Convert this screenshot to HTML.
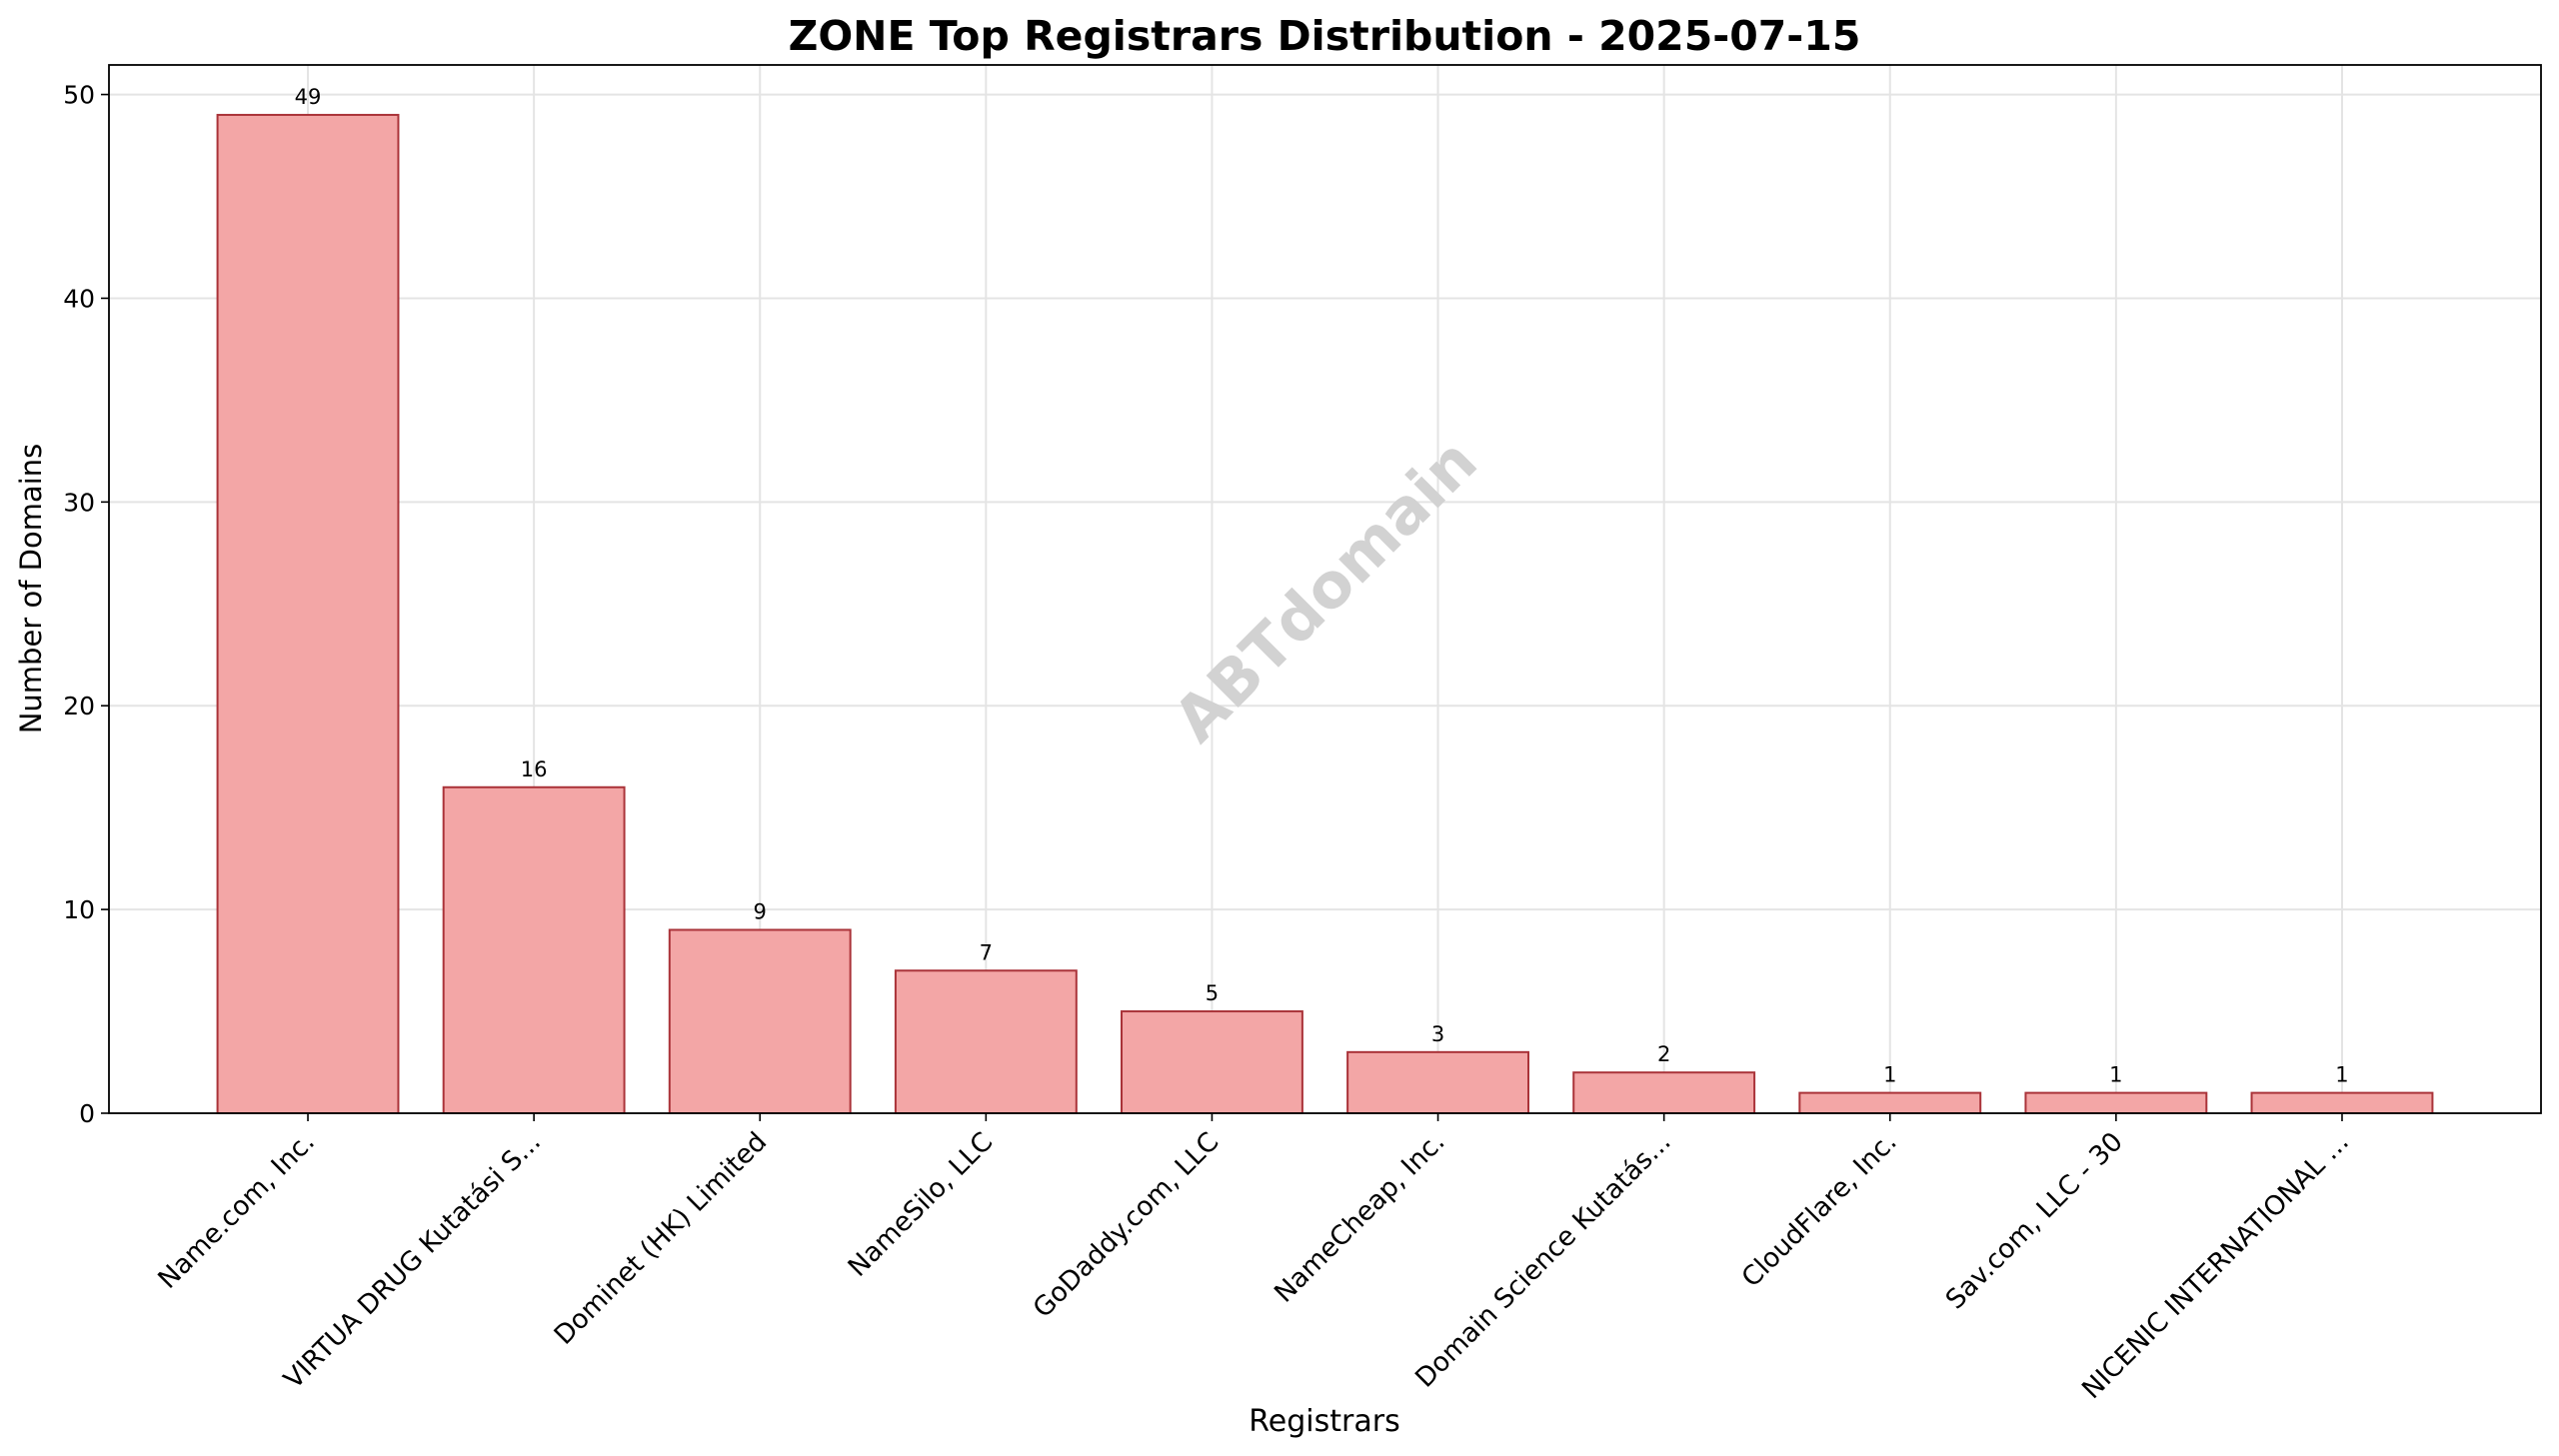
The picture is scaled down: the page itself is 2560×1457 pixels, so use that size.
<!DOCTYPE html>
<html><head><meta charset="utf-8"><style>
html,body{margin:0;padding:0;background:#fff}
svg{display:block;font-family:"DejaVu Sans","Liberation Sans",sans-serif}
</style></head><body>
<svg id="chart" width="2560" height="1457" viewBox="0 0 2560 1457" xmlns="http://www.w3.org/2000/svg">
<rect width="2560" height="1457" fill="#fff"/>
<text x="1325" y="50" text-anchor="middle" font-size="41" font-weight="bold" fill="#000">ZONE Top Registrars Distribution - 2025-07-15</text>
<g id="grid"></g>
<text x="1326" y="612" text-anchor="middle" font-size="62" font-weight="bold" fill="#d2d2d2" transform="rotate(-45 1326 591)">ABTdomain</text>
<g id="bars"></g>
<g id="axes"></g>
<text x="0" y="0" text-anchor="middle" font-size="29" fill="#000" transform="translate(41 589) rotate(-90)">Number of Domains</text>
<text x="1325" y="1432" text-anchor="middle" font-size="30" fill="#000">Registrars</text>
</svg>
<script>
const categories = ["Name.com, Inc.","VIRTUA DRUG Kutatási S...","Dominet (HK) Limited","NameSilo, LLC","GoDaddy.com, LLC","NameCheap, Inc.","Domain Science Kutatás...","CloudFlare, Inc.","Sav.com, LLC - 30","NICENIC INTERNATIONAL ..."];
const values = [49,16,9,7,5,3,2,1,1,1];
const yTicks = [0,10,20,30,40,50];

const NS = "http://www.w3.org/2000/svg";
const L = 109, R = 2542, T = 65, B = 1114;
const n = categories.length;
const xmin = -0.4 - 0.049*(n-0.2), xmax = (n-1) + 0.4 + 0.049*(n-0.2);
const ymax = Math.max(...values) * 1.05;
const xs = v => L + (v - xmin) / (xmax - xmin) * (R - L);
const ys = v => B - v / ymax * (B - T);
function mk(tag, attrs, parent){const e=document.createElementNS(NS,tag);for(const k in attrs)e.setAttribute(k,attrs[k]);parent.appendChild(e);return e;}
const grid = document.getElementById('grid'), bars = document.getElementById('bars'), axes = document.getElementById('axes');

yTicks.forEach(t => {
  const y = ys(t);
  const g = mk('line',{x1:L,x2:R,y1:y,y2:y,stroke:'#e4e4e4','stroke-width':2},grid);
  
  
  mk('line',{x1:L-8,x2:L,y1:y,y2:y,stroke:'#000','stroke-width':1.6},axes);
  const tl = mk('text',{x:L-14,y:y+9,'text-anchor':'end','font-size':25,fill:'#000'},axes);
  tl.textContent = t;
  
  
});

categories.forEach((c,i) => {
  const x = xs(i);
  const gl = mk('line',{x1:x,x2:x,y1:T,y2:B,stroke:'#e4e4e4','stroke-width':2},grid);
  
  
  const w = xs(0.4) - xs(-0.4);
  const b = mk('rect',{x:x-w/2,y:ys(values[i]),width:w,height:B-ys(values[i]),fill:'#f3a6a6',stroke:'#aa3339','stroke-width':2},bars);
  
  
  const v = mk('text',{x:x,y:ys(values[i])-11,'text-anchor':'middle','font-size':21,fill:'#000'},bars);
  v.textContent = values[i];
  
  
  mk('line',{x1:x,x2:x,y1:B,y2:B+8,stroke:'#000','stroke-width':1.6},axes);
  const t = mk('text',{x:0,y:0,'text-anchor':'end','font-size':26.5,fill:'#000',transform:`translate(${x+8} ${B+30}) rotate(-45)`},axes);
  t.textContent = c;
  
  
});

const frame = mk('rect',{x:L,y:T,width:R-L,height:B-T,fill:'none',stroke:'#000','stroke-width':1.8},axes);


</script>
</body></html>
